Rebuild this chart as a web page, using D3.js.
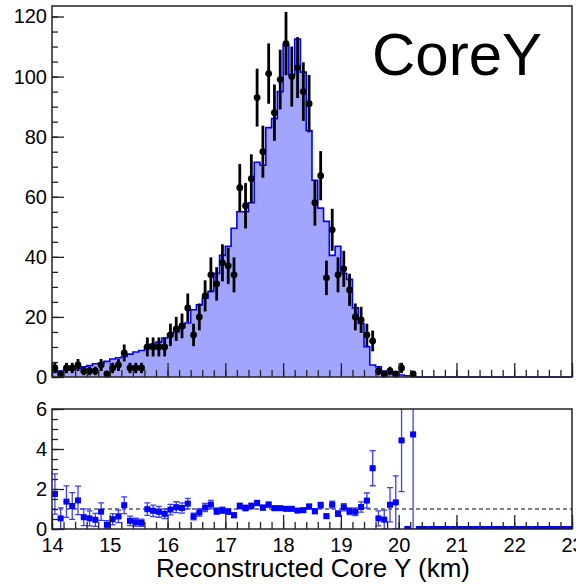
<!DOCTYPE html>
<html>
<head>
<meta charset="utf-8">
<script src="https://cdn.jsdelivr.net/npm/d3@7"></script>
<style>
  body { margin: 0; background: #fff; }
  svg { display: block; font-family: "Liberation Sans", Arial, sans-serif; }
</style>
</head>
<body>
<svg width="576" height="584"></svg>
<script>
// binning
var xMin = 14, xMax = 23, nBins = 90;

// observed counts per bin (0.1 km bins)
var dataCounts = [3, 1, 3, 3, 4, 2, 2, 2, 4, 1,
  3, 4, 8, 3, 3, 3, 10, 10, 10, 10,
  14, 16, 17, 23, 14, 20, 27, 34, 31, 38,
  37, 34, 63, 57, 66, 93, 75, 101, 88, 99,
  111, 100, 103, 95, 91, 58, 67, 33, 49, 34,
  36, 29, 20, 19, 14, 12, 2, 1, 2, 1,
  3, 0, 1, 0, 0, 0, 0, 0, 0, 0,
  0, 0, 0, 0, 0, 0, 0, 0, 0, 0,
  0, 0, 0, 0, 0, 0, 0, 0, 0, 0];

// simulated histogram per bin
var mcCounts = [1.7, 2.0, 2.3, 2.6, 2.9, 3.4, 3.8, 4.4, 4.6, 5.2,
  6.0, 6.4, 6.8, 7.6, 8.3, 8.8, 10.1, 11.0, 11.6, 13.0,
  14.4, 15.0, 16.4, 18.0, 22.4, 24.0, 26.2, 28.5, 34.5, 40.5,
  43.5, 49.5, 55, 55, 58, 71.5, 70.5, 83, 86, 95,
  110.5, 100.5, 112.5, 101.5, 82, 65.5, 56.2, 51.8, 40.5, 43.5,
  34.5, 32.5, 23, 17.8, 10.1, 4.0, 3.4, 2.0, 1.6, 0.8,
  0.65, 0.4, 0.22, 0, 0, 0, 0, 0, 0, 0,
  0, 0, 0, 0, 0, 0, 0, 0, 0, 0,
  0, 0, 0, 0, 0, 0, 0, 0, 0, 0];

// data / simulation ratio per bin
var ratioValues = [1.75, 0.53, 1.37, 1.15, 1.43, 0.59, 0.53, 0.46, 0.87, 0.21,
  0.49, 0.63, 1.19, 0.41, 0.34, 0.31, 0.99, 0.91, 0.86, 0.76,
  0.97, 1.09, 1.05, 1.27, 0.63, 0.83, 1.07, 1.22, 0.89, 0.94,
  0.87, 0.69, 1.15, 1.05, 1.15, 1.30, 1.07, 1.22, 1.04, 1.04,
  1.01, 1.01, 0.92, 0.94, 1.12, 0.89, 1.19, 0.64, 1.22, 0.77,
  1.09, 0.89, 0.86, 1.10, 1.42, 3.04, 0.53, 0.47, 1.21, 1.33,
  4.43, 0, 4.73, 0, 0, 0, 0, 0, 0, 0,
  0, 0, 0, 0, 0, 0, 0, 0, 0, 0,
  0, 0, 0, 0, 0, 0, 0, 0, 0, 0];

var xTicks = [14, 15, 16, 17, 18, 19, 20, 21, 22, 23];
var yTopTicks = [0, 20, 40, 60, 80, 100, 120];
var yBotTicks = [0, 2, 4, 6];

var svg = d3.select("svg");
var binW = (xMax - xMin) / nBins;

var x = d3.scaleLinear().domain([xMin, xMax]).range([52, 572]);
var yTop = d3.scaleLinear().domain([0, 123.5]).range([377, 6]);
var yBot = d3.scaleLinear().domain([0, 6]).range([529, 409]);

var bins = d3.range(nBins).map(function(i) {
  return { i: i, lo: xMin + i * binW, c: xMin + (i + 0.5) * binW,
    n: dataCounts[i], mc: mcCounts[i], r: ratioValues[i] };
});

// ---------- top panel ----------
var edges = d3.range(nBins + 1).map(function(i) {
  return { x: xMin + i * binW, v: mcCounts[Math.min(i, nBins - 1)] };
});

svg.append("path")
  .datum(edges)
  .attr("fill", "#a2a5fd")
  .attr("d", d3.area().curve(d3.curveStepAfter)
    .x(function(d) { return x(d.x); })
    .y0(yTop(0))
    .y1(function(d) { return yTop(d.v); }));

svg.append("path")
  .datum(edges)
  .attr("fill", "none")
  .attr("stroke", "#0000ff")
  .attr("stroke-width", 1.6)
  .attr("d", d3.line().curve(d3.curveStepAfter)
    .x(function(d) { return x(d.x); })
    .y(function(d) { return yTop(d.v); }));

var filled = bins.filter(function(d) { return d.n > 0; });

svg.append("g").selectAll("line")
  .data(filled)
  .join("line")
  .attr("x1", function(d) { return x(d.c); })
  .attr("x2", function(d) { return x(d.c); })
  .attr("y1", function(d) { return yTop(d.n + Math.sqrt(d.n)); })
  .attr("y2", function(d) { return yTop(Math.max(0, d.n - Math.sqrt(d.n))); })
  .attr("stroke", "#000")
  .attr("stroke-width", 2.8);

svg.append("g").selectAll("circle")
  .data(filled)
  .join("circle")
  .attr("cx", function(d) { return x(d.c); })
  .attr("cy", function(d) { return yTop(d.n); })
  .attr("r", 3.4)
  .attr("fill", "#000");

// ---------- bottom panel ----------
svg.append("clipPath").attr("id", "clipBot")
  .append("rect").attr("x", 52).attr("y", 409).attr("width", 520).attr("height", 120);

svg.append("line")
  .attr("x1", x(xMin)).attr("x2", x(xMax))
  .attr("y1", yBot(1)).attr("y2", yBot(1))
  .attr("stroke", "#000").attr("stroke-width", 1)
  .attr("stroke-dasharray", "4,3");

var rg = svg.append("g").attr("clip-path", "url(#clipBot)");
var withErr = bins.filter(function(d) { return d.n > 0 && d.r > 0; });

rg.selectAll("line.err")
  .data(withErr)
  .join("line")
  .attr("class", "err")
  .attr("x1", function(d) { return x(d.c); })
  .attr("x2", function(d) { return x(d.c); })
  .attr("y1", function(d) { return yBot(d.r + d.r / Math.sqrt(d.n)); })
  .attr("y2", function(d) { return yBot(Math.max(0, d.r - d.r / Math.sqrt(d.n))); })
  .attr("stroke", "#3d3dff")
  .attr("stroke-width", 1.3);

rg.selectAll("path.cap")
  .data(withErr)
  .join("path")
  .attr("class", "cap")
  .attr("d", function(d) {
    var cx = x(d.c), e = d.r / Math.sqrt(d.n);
    var yu = yBot(d.r + e), yl = yBot(Math.max(0, d.r - e));
    return "M" + (cx - 3) + "," + yu + "H" + (cx + 3) +
      "M" + (cx - 3) + "," + yl + "H" + (cx + 3);
  })
  .attr("stroke", "#3d3dff")
  .attr("stroke-width", 1.3)
  .attr("fill", "none");

rg.selectAll("line.hbar")
  .data(bins)
  .join("line")
  .attr("class", "hbar")
  .attr("x1", function(d) { return x(d.lo); })
  .attr("x2", function(d) { return x(d.lo + binW); })
  .attr("y1", function(d) { return yBot(d.r); })
  .attr("y2", function(d) { return yBot(d.r); })
  .attr("stroke", "#0000ff")
  .attr("stroke-width", 1.3);

rg.selectAll("rect.mk")
  .data(bins)
  .join("rect")
  .attr("class", "mk")
  .attr("x", function(d) { return x(d.c) - 3; })
  .attr("y", function(d) { return yBot(d.r) - 3; })
  .attr("width", 6)
  .attr("height", 6)
  .attr("fill", "#0000ff");

// ---------- axes ----------
function minorRange(a, b, step) {
  return d3.range(Math.round((b - a) / step) + 1).map(function(k) { return +(a + k * step).toFixed(4); });
}

function styleAxis(g) {
  g.select(".domain").remove();
  g.selectAll(".tick line").attr("stroke", "#222").attr("stroke-width", 1.3);
  g.selectAll("text").attr("font-size", 20).attr("fill", "#000")
    .attr("font-family", "Liberation Sans, Arial, sans-serif");
}

// top panel x ticks, no labels
svg.append("g").attr("transform", "translate(0,377)")
  .call(d3.axisBottom(x).tickValues(minorRange(14, 23, 0.2)).tickSize(-7).tickFormat(""))
  .call(styleAxis);
svg.append("g").attr("transform", "translate(0,377)")
  .call(d3.axisBottom(x).tickValues(xTicks).tickSize(-14).tickFormat(""))
  .call(styleAxis);

// top panel y
svg.append("g").attr("transform", "translate(52,0)")
  .call(d3.axisLeft(yTop).tickValues(minorRange(0, 120, 5)).tickSize(-6).tickFormat(""))
  .call(styleAxis);
svg.append("g").attr("transform", "translate(52,0)")
  .call(d3.axisLeft(yTop).tickValues(yTopTicks).tickSize(-12).tickPadding(5).tickFormat(d3.format("d")))
  .call(styleAxis);

// bottom panel x
svg.append("g").attr("transform", "translate(0,529)")
  .call(d3.axisBottom(x).tickValues(minorRange(14, 23, 0.2)).tickSize(-7).tickFormat(""))
  .call(styleAxis);
svg.append("g").attr("transform", "translate(0,529)")
  .call(d3.axisBottom(x).tickValues(xTicks).tickSize(-14).tickPadding(9).tickFormat(d3.format("d")))
  .call(styleAxis);

// bottom panel y
svg.append("g").attr("transform", "translate(52,0)")
  .call(d3.axisLeft(yBot).tickValues(minorRange(0, 6, 0.5)).tickSize(-6).tickFormat(""))
  .call(styleAxis);
svg.append("g").attr("transform", "translate(52,0)")
  .call(d3.axisLeft(yBot).tickValues(yBotTicks).tickSize(-12).tickPadding(5).tickFormat(d3.format("d")))
  .call(styleAxis);

// frames
svg.append("rect").attr("x", 52).attr("y", 6).attr("width", 520).attr("height", 371)
  .attr("fill", "none").attr("stroke", "#222").attr("stroke-width", 1.5);
svg.append("rect").attr("x", 52).attr("y", 409).attr("width", 520).attr("height", 120)
  .attr("fill", "none").attr("stroke", "#222").attr("stroke-width", 1.5);

// labels
svg.append("text")
  .attr("x", 372).attr("y", 75)
  .attr("font-size", 60)
  .text("CoreY");

svg.append("text")
  .attr("x", 470).attr("y", 577)
  .attr("text-anchor", "end")
  .attr("font-size", 26)
  .text("Reconstructed Core Y (km)");
</script>
</body>
</html>
